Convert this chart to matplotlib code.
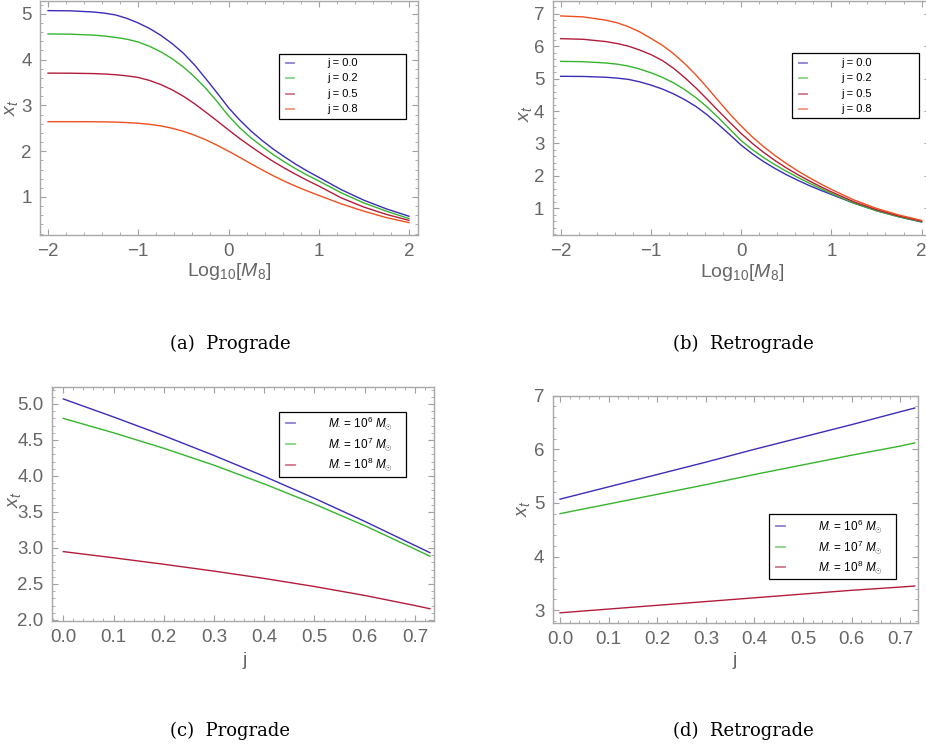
import matplotlib.pyplot as plt
import numpy as np
from matplotlib.lines import Line2D
from matplotlib.patches import Rectangle
from matplotlib.ticker import MultipleLocator

# Daten
log_m = [-2, -1.75, -1.5, -1.375, -1.25, -1.125, -1, -0.875, -0.75, -0.625, -0.5, -0.375, -0.25, -0.125,
         0, 0.125, 0.25, 0.375, 0.5, 0.625, 0.75, 0.875, 1, 1.25, 1.5, 1.75, 2]

pro_j00 = [5.07, 5.065, 5.04, 5.015, 4.975, 4.90, 4.80, 4.68, 4.53, 4.35, 4.14, 3.88, 3.58, 3.27,
           2.95, 2.68, 2.44, 2.23, 2.04, 1.87, 1.71, 1.565, 1.43, 1.16, 0.93, 0.74, 0.58]
pro_j02 = [4.56, 4.555, 4.535, 4.515, 4.485, 4.445, 4.385, 4.29, 4.17, 4.02, 3.84, 3.62, 3.37, 3.08,
           2.774, 2.51, 2.29, 2.10, 1.92, 1.76, 1.61, 1.475, 1.35, 1.09, 0.87, 0.69, 0.53]
pro_j05 = [3.705, 3.703, 3.695, 3.685, 3.67, 3.645, 3.61, 3.545, 3.455, 3.34, 3.20, 3.035, 2.85, 2.66,
           2.465, 2.275, 2.10, 1.93, 1.77, 1.625, 1.49, 1.36, 1.24, 0.98, 0.78, 0.62, 0.49]
pro_j08 = [2.645, 2.645, 2.643, 2.64, 2.635, 2.625, 2.61, 2.587, 2.553, 2.502, 2.434, 2.349, 2.247, 2.129,
           2.0, 1.865, 1.725, 1.59, 1.46, 1.34, 1.23, 1.13, 1.035, 0.85, 0.69, 0.55, 0.44]

ret_j00 = pro_j00
ret_j02 = [5.53, 5.52, 5.48, 5.445, 5.385, 5.295, 5.18, 5.04, 4.87, 4.66, 4.41, 4.12, 3.79, 3.44,
           3.09, 2.81, 2.565, 2.345, 2.145, 1.96, 1.785, 1.62, 1.46, 1.164, 0.928, 0.74, 0.59]
ret_j05 = [6.23, 6.21, 6.14, 6.08, 6.00, 5.88, 5.74, 5.56, 5.32, 5.03, 4.71, 4.36, 4.00, 3.65,
           3.31, 3.00, 2.725, 2.475, 2.25, 2.045, 1.855, 1.677, 1.51, 1.204, 0.959, 0.765, 0.61]
ret_j08 = [6.93, 6.90, 6.80, 6.72, 6.60, 6.44, 6.24, 6.03, 5.77, 5.46, 5.11, 4.72, 4.31, 3.91,
           3.54, 3.20, 2.90, 2.63, 2.385, 2.16, 1.955, 1.765, 1.585, 1.26, 1.0, 0.795, 0.63]

spin = [0, 0.1, 0.2, 0.3, 0.4, 0.5, 0.6, 0.7, 0.73]
pro_m6 = [5.07, 4.82, 4.56, 4.285, 3.995, 3.69, 3.37, 3.035, 2.935]
pro_m7 = [4.80, 4.60, 4.385, 4.15, 3.89, 3.61, 3.31, 2.985, 2.885]
pro_m8 = [2.95, 2.864, 2.774, 2.679, 2.577, 2.465, 2.341, 2.201, 2.156]
ret_m6 = [5.07, 5.30, 5.53, 5.76, 6.00, 6.23, 6.46, 6.70, 6.77]
ret_m7 = [4.80, 4.98, 5.16, 5.34, 5.53, 5.71, 5.89, 6.06, 6.12]
ret_m8 = [2.95, 3.02, 3.09, 3.16, 3.23, 3.30, 3.37, 3.43, 3.45]

j_labels = ['j = 0.0', 'j = 0.2', 'j = 0.5', 'j = 0.8']
m_labels = [r'$M_{\bullet}$ = 10$^6$ $M_{\odot}$',
            r'$M_{\bullet}$ = 10$^7$ $M_{\odot}$',
            r'$M_{\bullet}$ = 10$^8$ $M_{\odot}$']
captions = ['(a)  Prograde', '(b)  Retrograde', '(c)  Prograde', '(d)  Retrograde']

c_blue = '#3b2db8'
c_green = '#35b52c'
c_red = '#b31c3c'
c_orange = '#f0501e'
grau = '#666666'

plt.rcParams['font.family'] = ['Liberation Sans', 'DejaVu Sans']
plt.rcParams['mathtext.fontset'] = 'custom'
plt.rcParams['mathtext.it'] = 'Liberation Sans:italic'
plt.rcParams['mathtext.rm'] = 'Liberation Sans'

W, H = 926, 749
fig = plt.figure(figsize=(W / 100, H / 100), dpi=100)


def fx(x):
    return x / W


def fy(y):
    return 1 - y / H


def make_ax(l, r, t, b):
    ax = fig.add_axes([fx(l), fy(b), (r - l) / W, (b - t) / H])
    for s in ax.spines.values():
        s.set_color('#a8a8a8')
        s.set_linewidth(1.0)
    ax.tick_params(which='both', direction='in', top=True, right=True, color='#a0a0a0')
    ax.tick_params(which='major', length=4, width=0.8, labelsize=13.5, labelcolor=grau, pad=6)
    ax.tick_params(which='minor', length=2, width=0.6)
    return ax


def legend(box, line_x, text_x, rows, colors, labels, size):
    # Legende von Hand, Positionen in Pixeln
    l, t, r, b = box
    fig.add_artist(Rectangle((fx(l), fy(b)), (r - l) / W, (b - t) / H, transform=fig.transFigure,
                             facecolor='white', edgecolor='black', lw=0.9, zorder=5))
    for y, c, txt in zip(rows, colors, labels):
        fig.add_artist(Line2D([fx(line_x[0]), fx(line_x[1])], [fy(y), fy(y)], transform=fig.transFigure,
                              color=c, lw=1.3, alpha=0.6, zorder=6))
        fig.text(fx(text_x), fy(y), txt, ha='left', va='center', fontsize=size, zorder=6)


lw = 1.0

# (a) Prograde
ax_a = make_ax(40, 418, 1, 235)
for y, c in zip([pro_j00, pro_j02, pro_j05, pro_j08], [c_blue, c_green, c_red, c_orange]):
    ax_a.plot(log_m, y, color=c, lw=lw)
ax_a.set_xlim(-2.089, 2.1)
ax_a.set_ylim(0.17, 5.28)
ax_a.set_yticks([1, 2, 3, 4, 5])
legend((279.3, 54, 406, 119.3), (286, 294), 327, [63.3, 78.3, 93.8, 109.3],
       [c_blue, c_green, c_red, c_orange], j_labels, 8)

# (b) Retrograde
ax_b = make_ax(552.7, 929.7, 1, 235)
for y, c in zip([ret_j00, ret_j02, ret_j05, ret_j08], [c_blue, c_green, c_red, c_orange]):
    ax_b.plot(log_m, y, color=c, lw=lw)
ax_b.set_xlim(-2.088, 2.09)
ax_b.set_ylim(0.18, 7.39)
ax_b.set_yticks([1, 2, 3, 4, 5, 6, 7])
legend((792.3, 53.3, 919.3, 118.3), (799.3, 806.7), 841, [62.7, 78.3, 94, 109.3],
       [c_blue, c_green, c_red, c_orange], j_labels, 8)

for ax in (ax_a, ax_b):
    ax.xaxis.set_minor_locator(MultipleLocator(0.2))
    ax.yaxis.set_minor_locator(MultipleLocator(0.2))
    ax.set_xticks([-2, -1, 0, 1, 2])
    ax.set_xticklabels(['\u22122', '\u22121', '0', '1', '2'])
    ax.set_xlabel(r'Log$_{10}$[$M_8$]', fontsize=14, color=grau, va='center')

ax_a.xaxis.set_label_coords(0.5, -0.158)
ax_b.xaxis.set_label_coords(0.501, -0.162)

# (c) Prograde
ax_c = make_ax(52, 434, 387, 621)
for y, c in zip([pro_m6, pro_m7, pro_m8], [c_blue, c_green, c_red]):
    ax_c.plot(spin, y, color=c, lw=lw)
ax_c.set_xlim(-0.0225, 0.738)
ax_c.set_ylim(1.986, 5.236)
ax_c.yaxis.set_major_locator(MultipleLocator(0.5))
ax_c.yaxis.set_minor_locator(MultipleLocator(0.1))
ax_c.yaxis.set_major_formatter('{x:.1f}')
legend((279.3, 412.3, 406, 476.7), (286, 295), 328.3, [423.3, 444, 464.5],
       [c_blue, c_green, c_red], m_labels, 8.5)

# (d) Retrograde
ax_d = make_ax(552.7, 917.7, 395.7, 623)
for y, c in zip([ret_m6, ret_m7, ret_m8], [c_blue, c_green, c_red]):
    ax_d.plot(spin, y, color=c, lw=lw)
ax_d.set_xlim(-0.0151, 0.736)
ax_d.set_ylim(2.76, 7.0)
ax_d.yaxis.set_major_locator(MultipleLocator(1))
ax_d.yaxis.set_minor_locator(MultipleLocator(0.2))
legend((769.3, 514.3, 896, 579), (776, 785), 818.3, [525.7, 546.7, 567.3],
       [c_blue, c_green, c_red], m_labels, 8.5)

for ax in (ax_c, ax_d):
    ax.xaxis.set_major_locator(MultipleLocator(0.1))
    ax.xaxis.set_minor_locator(MultipleLocator(0.02))
    ax.xaxis.set_major_formatter('{x:.1f}')
    ax.set_xlabel('j', fontsize=14, color=grau, va='center')

ax_c.xaxis.set_label_coords(0.505, -0.167)
ax_d.xaxis.set_label_coords(0.4995, -0.163)

for ax, (lx, ly) in zip((ax_a, ax_b, ax_c, ax_d),
                        [(-0.076, 0.543), (-0.073, 0.52), (-0.099, 0.517), (-0.080, 0.505)]):
    ax.set_ylabel(r'$x_t$', fontsize=14, color=grau, va='center')
    ax.yaxis.set_label_coords(lx, ly)

# Bildunterschriften
for (cx, cy), txt in zip([(230, 344), (743, 344), (230, 731), (743, 731)], captions):
    fig.text(fx(cx), fy(cy), txt, ha='center', va='center',
             fontsize=13, family='DejaVu Serif')

fig.savefig('out.png', dpi=100)
